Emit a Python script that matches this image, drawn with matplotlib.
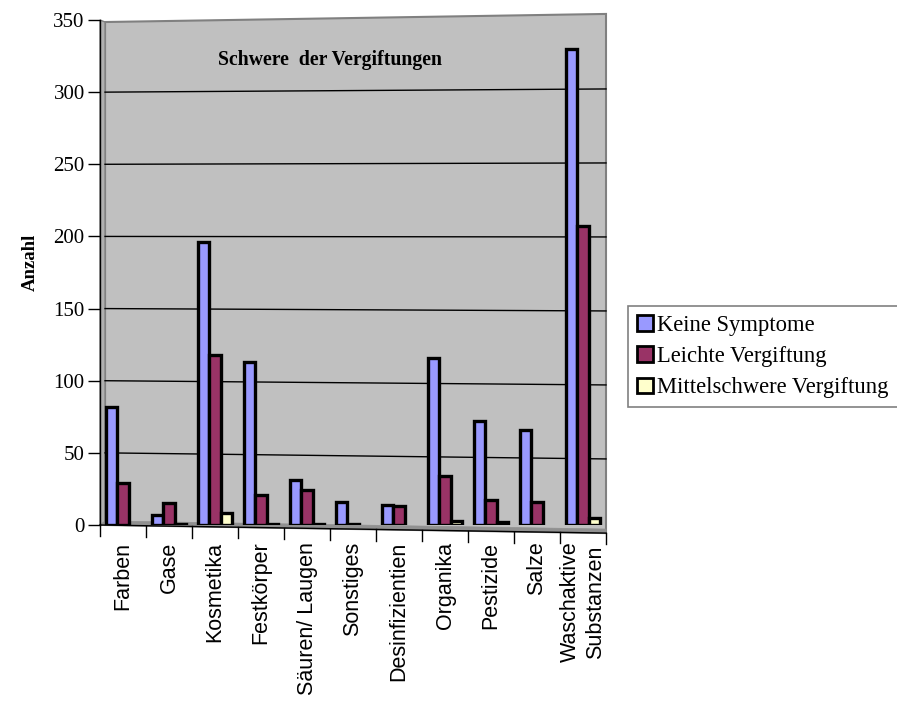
import numpy as np
import matplotlib
matplotlib.use("Agg")
import matplotlib.pyplot as plt
from matplotlib.patches import Polygon, Rectangle
from matplotlib.transforms import blended_transform_factory

# Giftgruppen und Anzahl der Fälle je Schweregrad
categories = ['Farben', 'Gase', 'Kosmetika', 'Festkörper', 'Säuren/ Laugen',
              'Sonstiges', 'Desinfizientien', 'Organika', 'Pestizide', 'Salze',
              'Waschaktive\nSubstanzen']
keine = [82, 7, 196, 113, 31, 16, 14, 116, 72, 66, 330]
leichte = [29, 15, 118, 21, 24, 1, 13, 34, 17, 16, 207]
mittel = [0, 1, 8, 1, 1, 0, 0, 3, 2, 0, 5]

series = [('Keine Symptome', keine, '#9999FF'),
          ('Leichte Vergiftung', leichte, '#993366'),
          ('Mittelschwere Vergiftung', mittel, '#FFFFCC')]

yticks = [0, 50, 100, 150, 200, 250, 300, 350]

serif = 'Liberation Serif'
sans = 'Liberation Sans'

fig = plt.figure(figsize=(8.97, 7.02), dpi=100)
ax = fig.add_axes([100 / 897, 1 - 525 / 702, 506 / 897, 505 / 702])
ax.set_xlim(-0.5, len(categories) - 0.5)
ax.set_ylim(0, 350)
ax.patch.set_visible(False)
for s in ['top', 'right', 'bottom']:
    ax.spines[s].set_visible(False)
ax.spines['left'].set_linewidth(1.0)

# Rückwand mit leichter Perspektive
xw = 0.01
wall = Polygon([(xw, 0), (xw, 0.996), (1.0, 1.012), (1.0, -0.016)],
               closed=True, transform=ax.transAxes, facecolor='#C0C0C0',
               edgecolor='#808080', lw=1.5, zorder=0, clip_on=False)
ax.add_patch(wall)
side = Polygon([(0, 0), (0, 1.0), (xw, 0.996), (xw, 0)], closed=True,
               transform=ax.transAxes, facecolor='#B0B0B0',
               edgecolor='#808080', lw=1.0, zorder=0.5, clip_on=False)
ax.add_patch(side)
floor = Polygon([(0, 0), (xw, 0.008), (1.0, -0.008), (1.0, -0.016)],
                closed=True, transform=ax.transAxes, facecolor='#909090',
                edgecolor='#909090', lw=0.5, zorder=0.6, clip_on=False)
ax.add_patch(floor)

# Gitterlinien auf der Rückwand, zur rechten Seite hin leicht gespreizt
blend = blended_transform_factory(ax.transAxes, ax.transData)
for v in yticks[1:-1]:
    ax.plot([xw, 1.0], [v, -5.5 + 1.0257 * v], color='black', lw=1.0,
            transform=blend, zorder=1, clip_on=False)

x = np.arange(len(categories))
w = 0.25
for i, (name, vals, col) in enumerate(series):
    bars = ax.bar(x + (i - 1) * w, vals, w, color=col, edgecolor='black',
                  linewidth=2.4, zorder=3, label=name)
    for b, v in zip(bars, vals):
        if v == 0:
            b.set_visible(False)

# x-Achse (schräg) mit Teilstrichen zwischen den Gruppen
ax.plot([0, 1], [0, -0.016], color='black', lw=1.0, transform=ax.transAxes,
        clip_on=False, zorder=4)
for k in range(len(categories) + 1):
    fx = k / len(categories)
    y0 = -0.016 * fx
    ax.plot([fx, fx], [y0, y0 - 0.022], color='black', lw=1.0,
            transform=ax.transAxes, clip_on=False, zorder=4)

ax.set_xticks(x)
ax.set_xticklabels(categories, rotation=90, fontfamily=sans, fontsize=15.5,
                   va='top', ha='center', multialignment='center')
ax.tick_params(axis='x', length=0, pad=12)

ax.set_yticks(yticks)
ax.set_yticklabels([str(t) for t in yticks], fontfamily=serif, fontsize=15)
ax.tick_params(axis='y', direction='out', length=9, width=1.0, pad=2)

ax.set_ylabel('Anzahl', fontfamily=serif, fontweight='bold', fontsize=13.5)
ax.yaxis.set_label_coords(-0.12, 0.52)

fig.text(330 / 897, 1 - 60 / 702, 'Schwere  der Vergiftungen',
         fontfamily=serif, fontweight='bold', fontsize=14.2,
         ha='center', va='center')

handles = [Rectangle((0, 0), 1, 1, facecolor=c, edgecolor='black', lw=2.0)
           for _, _, c in series]
leg = fig.legend(handles, [n for n, _, _ in series], loc='upper left',
                 bbox_to_anchor=(628 / 897, 1 - 306 / 702),
                 prop={'family': serif, 'size': 16.3}, frameon=True,
                 fancybox=False, edgecolor='#808080', framealpha=1,
                 handlelength=0.7, handleheight=0.7, handletextpad=0.2,
                 borderpad=0.4, labelspacing=0.45, borderaxespad=0)
leg.get_frame().set_linewidth(1.2)

fig.savefig('out.png', dpi=100)
